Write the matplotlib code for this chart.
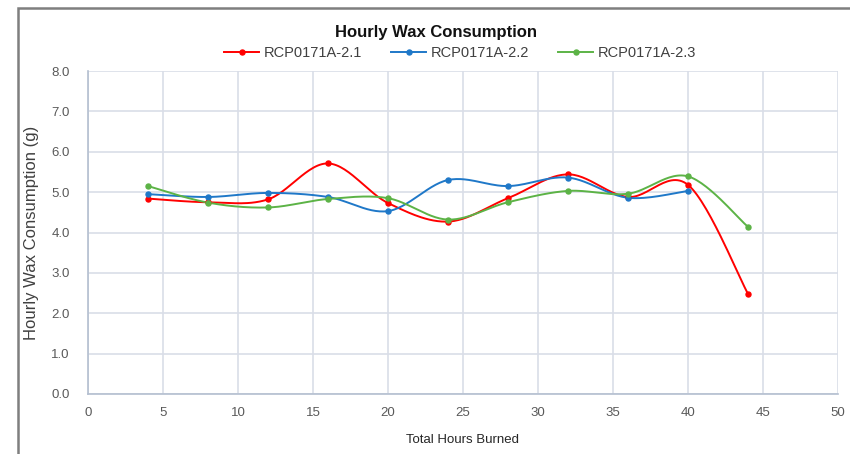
import numpy as np
import matplotlib
matplotlib.use("Agg")
import matplotlib.pyplot as plt
from matplotlib.patches import Rectangle

hours_a = [4, 8, 12, 16, 20, 24, 28, 32, 36, 40, 44]
wax_21 = [4.84, 4.75, 4.82, 5.71, 4.73, 4.27, 4.85, 5.44, 4.88, 5.18, 2.48]
hours_b = [4, 8, 12, 16, 20, 24, 28, 32, 36, 40]
wax_22 = [4.95, 4.88, 4.98, 4.88, 4.53, 5.30, 5.15, 5.36, 4.86, 5.03]
wax_23 = [5.15, 4.74, 4.62, 4.83, 4.85, 4.32, 4.75, 5.03, 4.96, 5.39, 4.14]
labels = ["RCP0171A-2.1", "RCP0171A-2.2", "RCP0171A-2.3"]
colors = ["#FF0000", "#1F78C8", "#5CB346"]

FONT = ['Liberation Sans Narrow', 'Liberation Sans', 'DejaVu Sans']
plt.rcParams['font.family'] = FONT


def smooth(x, y, n=30):
    x = np.asarray(x, float)
    y = np.asarray(y, float)
    px = np.concatenate([[x[0]], x, [x[-1]]])
    py = np.concatenate([[y[0]], y, [y[-1]]])
    xs, ys = [], []
    t = np.linspace(0, 1, n)
    for i in range(1, len(px) - 2):
        p0 = np.array([px[i], py[i]])
        p3 = np.array([px[i + 1], py[i + 1]])
        p1 = p0 + (np.array([px[i + 1], py[i + 1]]) - np.array([px[i - 1], py[i - 1]])) / 6
        p2 = p3 - (np.array([px[i + 2], py[i + 2]]) - np.array([px[i], py[i]])) / 6
        b = ((1 - t) ** 3)[:, None] * p0 + (3 * (1 - t) ** 2 * t)[:, None] * p1 \
            + (3 * (1 - t) * t ** 2)[:, None] * p2 + (t ** 3)[:, None] * p3
        xs.append(b[:, 0])
        ys.append(b[:, 1])
    return np.concatenate(xs), np.concatenate(ys)


fig = plt.figure(figsize=(8.5, 4.54), dpi=100)
ax = fig.add_axes([88 / 850, 1 - 394 / 454, 750 / 850, 323 / 454])

# outer chart border
fig.patches.append(Rectangle((18 / 850, -0.1), 1.1, 1 - 8 / 454 + 0.1, transform=fig.transFigure,
                             fill=False, edgecolor="#7F7F7F", linewidth=1.8))

series = [(hours_a, wax_21), (hours_b, wax_22), (hours_a, wax_23)]
for (xv, yv), lab, c in zip(series, labels, colors):
    sx, sy = smooth(xv, yv)
    ax.plot(sx, sy, color=c, linewidth=1.4, zorder=3)
    ax.plot(xv, yv, linestyle='none', marker='o', markersize=3.6, color=c, zorder=4)
    ax.plot([], [], color=c, linewidth=1.4, marker='o', markersize=3.6, label=lab)

ax.set_xlim(0, 50)
ax.set_ylim(0, 8)
ax.set_xticks(np.arange(0, 51, 5))
ax.set_yticks(np.arange(0, 8.1, 1))
ax.set_yticklabels([f"{v:.1f}" for v in np.arange(0, 8.1, 1)])
ax.grid(True, color="#D9DEE8", linewidth=1.2)
ax.set_axisbelow(True)
for s in ["top", "right"]:
    ax.spines[s].set_visible(False)
for s in ["left", "bottom"]:
    ax.spines[s].set_color("#B4BFD0")
    ax.spines[s].set_linewidth(1.2)
ax.tick_params(length=0, pad=9, labelsize=9.5, colors="#595959")
ax.tick_params(axis='y', pad=13)

ax.set_xlabel("Total Hours Burned", fontsize=9.5, color="#262626", labelpad=11)
ax.set_ylabel("Hourly Wax Consumption (g)", fontsize=12, color="#404040", labelpad=9)

fig.text(436 / 850, 1 - 32 / 454, "Hourly Wax Consumption", ha='center', va='center',
         fontsize=12, color="#111111", fontweight='semibold')
fig.legend(loc='center', bbox_to_anchor=(460 / 850, 1 - 53 / 454), ncol=3, frameon=False,
           fontsize=10.5, handlelength=2.4, columnspacing=2.0, handletextpad=0.3,
           labelcolor="#404040")

fig.savefig("out.png", dpi=100)
